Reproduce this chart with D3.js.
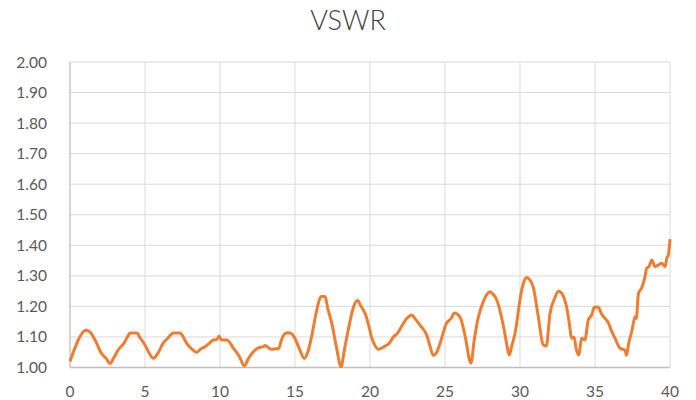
<!DOCTYPE html>
<meta charset="utf-8">
<style>
body { margin: 0; background: #fff; }
.grid line { stroke: #d9d9d9; stroke-width: 1; }
.axis-line { stroke: #bfbfbf; stroke-width: 1.3; }
.tick-label { font-family: Lato, "Open Sans", sans-serif; font-size: 15.5px; fill: #595959; }
.title { font-family: Lato, "Open Sans", sans-serif; font-size: 27px; font-weight: 300; fill: #404040; }
.vswr-line { fill: none; stroke: #ed7d31; stroke-width: 3; stroke-linejoin: round; }
</style>
<svg width="696" height="400"></svg>
<script src="https://cdn.jsdelivr.net/npm/d3@7"></script>
<script>

var distance = [0, 0.3, 0.6, 1.05, 1.3, 1.67, 2.1, 2.4, 2.67, 2.9, 3.2, 3.6, 3.9, 4.0, 4.45, 4.7, 5.0, 5.3, 5.55, 5.9,
  6.2, 6.5, 6.9, 7.33, 7.55, 7.78, 8.1, 8.44, 8.7, 9.0, 9.3, 9.55, 9.8, 9.93, 10.1, 10.45, 10.9, 11.3, 11.62, 11.9,
  12.33, 12.6, 12.9, 13.0, 13.4, 13.9, 14.1, 14.3, 14.55, 14.8, 15.0, 15.3, 15.62, 15.85, 16.1, 16.45, 16.73, 17.0, 17.2, 17.45,
  17.75, 18.07, 18.3, 18.55, 18.85, 19.18, 19.35, 19.55, 19.67, 19.9, 20.1, 20.3, 20.55, 21.0, 21.3, 21.55, 21.8, 22.1, 22.45, 22.78,
  23.0, 23.33, 23.78, 24.0, 24.22, 24.45, 24.67, 25.1, 25.4, 25.62, 26.0, 26.33, 26.73, 26.95, 27.2, 27.55, 27.8, 28.0, 28.2, 28.45,
  28.9, 29.1, 29.28, 29.45, 29.67, 30.07, 30.25, 30.45, 30.6, 30.9, 31.22, 31.55, 31.75, 32.0, 32.3, 32.55, 32.75, 32.95, 33.1, 33.27,
  33.45, 33.6, 33.75, 33.93, 34.1, 34.33, 34.55, 34.78, 34.95, 35.2, 35.45, 35.9, 36.1, 36.33, 36.67, 37.0, 37.1, 37.25, 37.45, 37.67,
  37.75, 37.9, 38.1, 38.3, 38.45, 38.6, 38.78, 39.0, 39.2, 39.45, 39.67, 39.8, 39.89, 40.0];

var vswr = [1.02, 1.06, 1.095, 1.122, 1.118, 1.09, 1.046, 1.03, 1.013, 1.03, 1.057, 1.08, 1.106, 1.113, 1.113, 1.095, 1.074, 1.045, 1.03, 1.05,
  1.079, 1.095, 1.113, 1.113, 1.1, 1.079, 1.062, 1.05, 1.06, 1.068, 1.08, 1.09, 1.092, 1.103, 1.09, 1.09, 1.063, 1.035, 1.005, 1.03,
  1.057, 1.065, 1.068, 1.072, 1.06, 1.062, 1.09, 1.11, 1.114, 1.11, 1.095, 1.06, 1.03, 1.05, 1.1, 1.188, 1.232, 1.232, 1.19, 1.145,
  1.07, 1.003, 1.06, 1.123, 1.19, 1.22, 1.205, 1.188, 1.177, 1.14, 1.10, 1.075, 1.06, 1.07, 1.08, 1.10, 1.11, 1.134, 1.16, 1.172,
  1.16, 1.139, 1.106, 1.07, 1.04, 1.05, 1.079, 1.145, 1.16, 1.178, 1.165, 1.106, 1.014, 1.09, 1.16, 1.215, 1.24, 1.248, 1.24, 1.221,
  1.134, 1.08, 1.041, 1.07, 1.112, 1.243, 1.28, 1.295, 1.29, 1.26, 1.166, 1.074, 1.07, 1.177, 1.225, 1.25, 1.245, 1.226, 1.2, 1.15,
  1.096, 1.1, 1.06, 1.041, 1.096, 1.09, 1.155, 1.172, 1.197, 1.198, 1.174, 1.145, 1.12, 1.096, 1.063, 1.057, 1.04, 1.08, 1.117, 1.166,
  1.16, 1.243, 1.259, 1.29, 1.325, 1.33, 1.352, 1.33, 1.335, 1.341, 1.33, 1.36, 1.368, 1.42];

var xTicks = [0, 5, 10, 15, 20, 25, 30, 35, 40];
var yTicks = [1.0, 1.1, 1.2, 1.3, 1.4, 1.5, 1.6, 1.7, 1.8, 1.9, 2.0];

var svg = d3.select("svg");

var x = d3.scaleLinear().domain([0, 40]).range([70, 670]);
var y = d3.scaleLinear().domain([1, 2]).range([367.5, 62]);

var data = distance.map(function(d, i) { return [d, vswr[i]]; });

svg.append("text")
    .attr("class", "title")
    .attr("x", 348)
    .attr("y", 30)
    .attr("text-anchor", "middle")
    .text("VSWR");

// gridlines
var grid = svg.append("g").attr("class", "grid");
grid.selectAll(".hy")
  .data(yTicks.slice(1))
  .enter().append("line")
    .attr("x1", x(0)).attr("x2", x(40))
    .attr("y1", function(d) { return y(d); })
    .attr("y2", function(d) { return y(d); });
grid.selectAll(".vx")
  .data(xTicks.slice(1))
  .enter().append("line")
    .attr("y1", y(1)).attr("y2", y(2))
    .attr("x1", function(d) { return x(d); })
    .attr("x2", function(d) { return x(d); });

svg.append("line").attr("class", "axis-line")
    .attr("x1", x(0)).attr("x2", x(0)).attr("y1", y(2)).attr("y2", y(1));
svg.append("line").attr("class", "axis-line")
    .attr("x1", x(0)).attr("x2", x(40)).attr("y1", y(1)).attr("y2", y(1));

svg.selectAll(".ylab")
  .data(yTicks)
  .enter().append("text")
    .attr("class", "tick-label")
    .attr("x", 47)
    .attr("y", function(d) { return y(d) + 5.5; })
    .attr("text-anchor", "end")
    .text(function(d) { return d3.format(".2f")(d); });

svg.selectAll(".xlab")
  .data(xTicks)
  .enter().append("text")
    .attr("class", "tick-label")
    .attr("x", function(d) { return x(d); })
    .attr("y", 397)
    .attr("text-anchor", "middle")
    .text(function(d) { return d; });

var line = d3.line()
    .x(function(d) { return x(d[0]); })
    .y(function(d) { return y(d[1]); })
    .curve(d3.curveMonotoneX);

svg.append("path")
    .datum(data)
    .attr("class", "vswr-line")
    .attr("d", line);

</script>
